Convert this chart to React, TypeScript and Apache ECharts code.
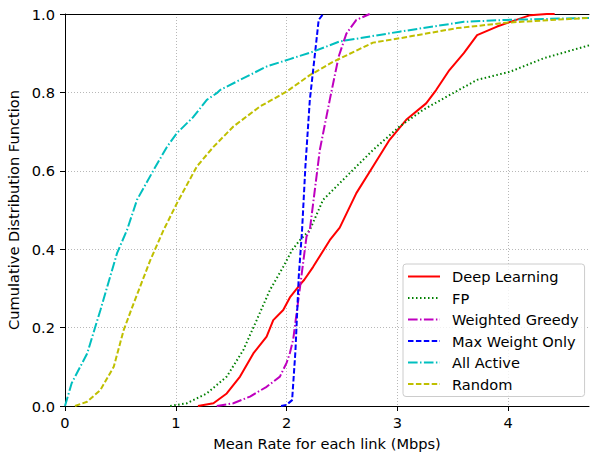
import React, { useEffect, useRef } from "react";
import * as echarts from "echarts";

const seriesNames = ["Deep Learning", "FP", "Weighted Greedy", "Max Weight Only", "All Active", "Random"];

const deepLearning: number[][] = [
  [1.2, 0], [1.34, 0.007], [1.46, 0.032], [1.58, 0.075], [1.7, 0.134], [1.82, 0.177], [1.88, 0.219],
  [1.97, 0.245], [2.03, 0.277], [2.12, 0.309], [2.16, 0.322], [2.24, 0.355], [2.39, 0.423], [2.48, 0.455],
  [2.63, 0.543], [2.78, 0.611], [2.93, 0.679], [3.08, 0.73], [3.26, 0.772], [3.35, 0.806], [3.47, 0.857],
  [3.6, 0.9], [3.72, 0.946], [3.9, 0.968], [4.02, 0.98], [4.2, 0.997], [4.35, 1.0], [4.42, 1.0],
];

const fp: number[][] = [
  [0.95, 0], [1.1, 0.007], [1.28, 0.032], [1.46, 0.075], [1.61, 0.143], [1.73, 0.219], [1.85, 0.296],
  [1.97, 0.355], [2.05, 0.398], [2.12, 0.423], [2.21, 0.449], [2.33, 0.526], [2.57, 0.594], [2.78, 0.653],
  [3.02, 0.713], [3.23, 0.755], [3.47, 0.793], [3.72, 0.832], [4.02, 0.853], [4.32, 0.887], [4.73, 0.92],
];

const weightedGreedy: number[][] = [
  [1.37, 0], [1.52, 0.007], [1.67, 0.024], [1.82, 0.049], [1.94, 0.075], [2.0, 0.11], [2.03, 0.135],
  [2.06, 0.17], [2.09, 0.236], [2.12, 0.3], [2.18, 0.432], [2.21, 0.449], [2.3, 0.653], [2.39, 0.781],
  [2.47, 0.891], [2.54, 0.95], [2.63, 0.985], [2.75, 1.0],
];

const maxWeightOnly: number[][] = [
  [1.95, 0], [2.0, 0.003], [2.05, 0.015], [2.08, 0.14], [2.11, 0.33], [2.14, 0.449], [2.17, 0.611],
  [2.21, 0.781], [2.26, 0.908], [2.29, 0.985], [2.33, 1.0],
];

const allActive: number[][] = [
  [0, 0], [0.06, 0.058], [0.2, 0.134], [0.32, 0.245], [0.47, 0.39], [0.56, 0.449], [0.65, 0.526],
  [0.8, 0.602], [0.92, 0.661], [1.01, 0.696], [1.16, 0.738], [1.28, 0.781], [1.37, 0.798], [1.4, 0.806],
  [1.58, 0.832], [1.82, 0.866], [2.03, 0.885], [2.24, 0.904], [2.48, 0.93], [3.02, 0.955], [3.6, 0.98],
  [3.99, 0.985], [4.73, 0.99],
];

const random: number[][] = [
  [0.09, 0], [0.2, 0.011], [0.32, 0.041], [0.44, 0.1], [0.53, 0.194], [0.62, 0.262], [0.77, 0.372],
  [0.89, 0.449], [1.01, 0.517], [1.19, 0.611], [1.34, 0.661], [1.52, 0.713], [1.76, 0.764], [2.0, 0.802],
  [2.21, 0.844], [2.42, 0.878], [2.78, 0.927], [3.02, 0.938], [3.54, 0.964], [3.99, 0.978], [4.59, 0.988],
  [4.73, 0.99],
];

const xTicks = [0, 1, 2, 3, 4];
const xMax = 4.73;

const FONT = "DejaVu Sans";
const FS = 14.6;

export default function App() {
  const ref = useRef<HTMLDivElement>(null);
  useEffect(() => {
    if (!ref.current) return;
    const chart = echarts.init(ref.current, undefined, { renderer: "svg" });
    const mk = (name: string, data: number[][], color: string, type: any) => ({
      name,
      type: "line",
      data,
      showSymbol: false,
      symbol: "none",
      clip: true,
      lineStyle: { color, width: 2, type },
      itemStyle: { color, opacity: 0 },
    });
    const gridLine = { show: true, lineStyle: { color: "#b8b8b8", width: 1, type: [1, 2] } };
    chart.setOption({
      animation: false,
      textStyle: { fontFamily: FONT },
      grid: { left: 65, right: 1, top: 14, bottom: 47, containLabel: false, outerBoundsMode: "none" },
      xAxis: [
        {
          type: "value",
          min: 0,
          max: xMax,
          interval: 1,
          name: "Mean Rate for each link (Mbps)",
          nameLocation: "middle",
          nameGap: 30,
          nameTextStyle: { fontFamily: FONT, fontSize: FS, color: "#000" },
          axisLine: { show: true, lineStyle: { color: "#000", width: 1 } },
          axisTick: { show: true, inside: false, length: 5, lineStyle: { color: "#000" }, customValues: xTicks },
          axisLabel: { fontFamily: FONT, fontSize: FS, color: "#000", margin: 9, customValues: xTicks },
          splitLine: gridLine,
        },
        {
          type: "value",
          position: "top",
          min: 0,
          max: xMax,
          axisLine: { show: true, lineStyle: { color: "#000", width: 1 } },
          axisTick: { show: false },
          axisLabel: { show: false },
          splitLine: { show: false },
        },
      ],
      yAxis: {
        type: "value",
        min: 0,
        max: 1,
        interval: 0.2,
        name: "Cumulative Distribution Function",
        nameLocation: "middle",
        nameGap: 38,
        nameTextStyle: { fontFamily: FONT, fontSize: FS, color: "#000" },
        axisLine: { show: true, lineStyle: { color: "#000", width: 1 } },
        axisTick: { show: true, inside: false, length: 5, lineStyle: { color: "#000" } },
        axisLabel: { fontFamily: FONT, fontSize: FS, color: "#000", margin: 10, formatter: (v: number) => v.toFixed(1) },
        splitLine: gridLine,
      },
      legend: {
        orient: "vertical",
        left: 403,
        top: 264,
        data: seriesNames,
        itemWidth: 32,
        itemHeight: 14,
        itemGap: 6.5,
        padding: [5, 6, 5, 4],
        backgroundColor: "rgba(255,255,255,0.8)",
        borderColor: "#cccccc",
        borderWidth: 1,
        borderRadius: 3,
        itemStyle: { opacity: 0 },
        textStyle: { fontFamily: FONT, fontSize: FS, color: "#000", padding: [0, 0, 0, 7] },
      },
      series: [
        mk(seriesNames[0], deepLearning, "#ff0000", "solid"),
        mk(seriesNames[1], fp, "#008000", [1.5, 2.5]),
        mk(seriesNames[2], weightedGreedy, "#bf00bf", [9.6, 2.4, 1.5, 2.4]),
        mk(seriesNames[3], maxWeightOnly, "#0000ff", [5.5, 2.4]),
        mk(seriesNames[4], allActive, "#00bfbf", [9.6, 2.4, 1.5, 2.4]),
        mk(seriesNames[5], random, "#bfbf00", [5.5, 2.4]),
      ],
    });
    return () => chart.dispose();
  }, []);
  return <div ref={ref} style={{ position: "absolute", left: 0, top: 0, width: 590, height: 453 }} />;
}
